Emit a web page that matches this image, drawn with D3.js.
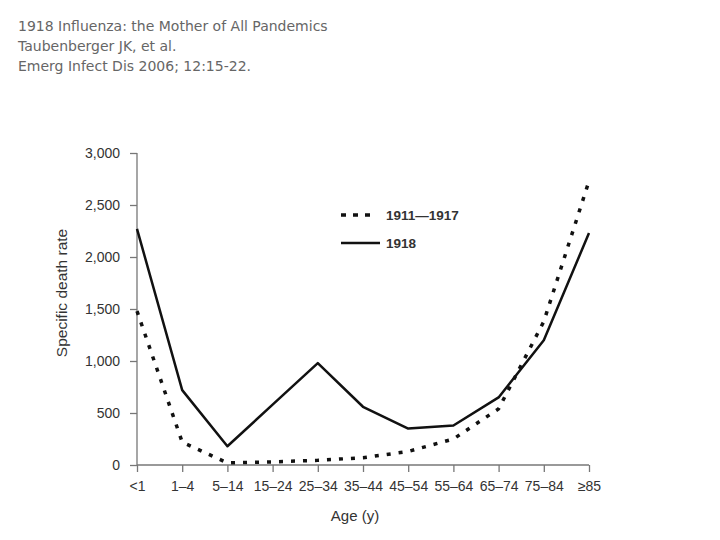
<!DOCTYPE html>
<html>
<head>
<meta charset="utf-8">
<script src="https://cdn.jsdelivr.net/npm/d3@7"></script>
<style>
  body { margin: 0; background: #fff; }
  svg { display: block; }
</style>
</head>
<body>
<div class="chart"></div>
<script>
// Data
const ages = ["<1", "1–4", "5–14", "15–24", "25–34", "35–44", "45–54", "55–64", "65–74", "75–84", "≥85"]
const rate1911 = [1480, 220, 20, 30, 45, 70, 130, 250, 540, 1380, 2730]
const rate1918 = [2270, 720, 180, 580, 980, 560, 350, 380, 650, 1200, 2230]
const yTicks = [0, 500, 1000, 1500, 2000, 2500, 3000]
const titleLines = ["1918 Influenza: the Mother of All Pandemics", "Taubenberger JK, et al.", "Emerg Infect Dis 2006; 12:15-22."]

const width = 720, height = 540

const svg = d3.select('.chart').append('svg')
    .attr('width', width)
    .attr('height', height)

// header text
svg.append('g').selectAll('text')
    .data(titleLines)
    .enter()
    .append('text')
    .attr('x', 18)
    .attr('y', (d, i) => 31 + i * 20)
    .attr('font-family', 'DejaVu Sans')
    .attr('font-size', 14)
    .attr('fill', '#666')
    .text(d => d)

const x = d3.scalePoint()
    .domain(ages)
    .range([137, 589])

const y = d3.scaleLinear()
    .domain([0, 3000])
    .range([465, 153])

const axisColor = '#777'
const labelColor = '#333'
const font = 'Liberation Sans, Arial, sans-serif'

// y axis
const yAxis = svg.append('g')
    .attr('transform', 'translate(137,0)')
    .call(d3.axisLeft(y).tickValues(yTicks).tickSize(7).tickPadding(10).tickFormat(d3.format(',')))
yAxis.select('.domain').attr('stroke', axisColor).attr('stroke-width', 1.3).attr('d', 'M0,' + y(3000) + 'V' + y(0))
yAxis.selectAll('line').attr('stroke', axisColor).attr('stroke-width', 1.3)
yAxis.selectAll('text')
    .attr('font-family', font)
    .attr('font-size', 14)
    .attr('fill', labelColor)

// x axis
const xAxis = svg.append('g')
    .attr('transform', 'translate(0,' + y(0) + ')')
    .call(d3.axisBottom(x).tickSize(7).tickPadding(9))
xAxis.select('.domain').attr('stroke', axisColor).attr('stroke-width', 1.3).attr('d', 'M' + x(ages[0]) + ',0H' + x(ages[ages.length - 1]))
xAxis.selectAll('line').attr('stroke', axisColor).attr('stroke-width', 1.3)
xAxis.selectAll('text')
    .attr('font-family', font)
    .attr('font-size', 14)
    .attr('fill', labelColor)

// axis titles
svg.append('text')
    .attr('transform', 'translate(67,293) rotate(-90)')
    .attr('text-anchor', 'middle')
    .attr('font-family', font)
    .attr('font-size', 15.5)
    .attr('fill', labelColor)
    .text('Specific death rate')

svg.append('text')
    .attr('x', 355)
    .attr('y', 521)
    .attr('text-anchor', 'middle')
    .attr('font-family', font)
    .attr('font-size', 15)
    .attr('fill', labelColor)
    .text('Age (y)')

// lines
const line = d3.line()
    .x((d, i) => x(ages[i]))
    .y(d => y(d))

svg.append('path')
    .datum(rate1911)
    .attr('d', line)
    .attr('fill', 'none')
    .attr('stroke', '#111')
    .attr('stroke-width', 3.5)
    .attr('stroke-dasharray', '4,8')

svg.append('path')
    .datum(rate1918)
    .attr('d', line)
    .attr('fill', 'none')
    .attr('stroke', '#111')
    .attr('stroke-width', 2.5)
    .attr('stroke-linejoin', 'round')

// legend
const legend = svg.append('g')
legend.append('line')
    .attr('x1', 341).attr('x2', 376).attr('y1', 215).attr('y2', 215)
    .attr('stroke', '#111').attr('stroke-width', 3.5).attr('stroke-dasharray', '5,7')
legend.append('line')
    .attr('x1', 341).attr('x2', 380).attr('y1', 243).attr('y2', 243)
    .attr('stroke', '#111').attr('stroke-width', 2.5)
legend.selectAll('text')
    .data(['1911—1917', '1918'])
    .enter()
    .append('text')
    .attr('x', 386)
    .attr('y', (d, i) => 220 + i * 28)
    .attr('font-family', font)
    .attr('font-size', 13.5)
    .attr('font-weight', 'bold')
    .attr('fill', labelColor)
    .text(d => d)
</script>
</body>
</html>
